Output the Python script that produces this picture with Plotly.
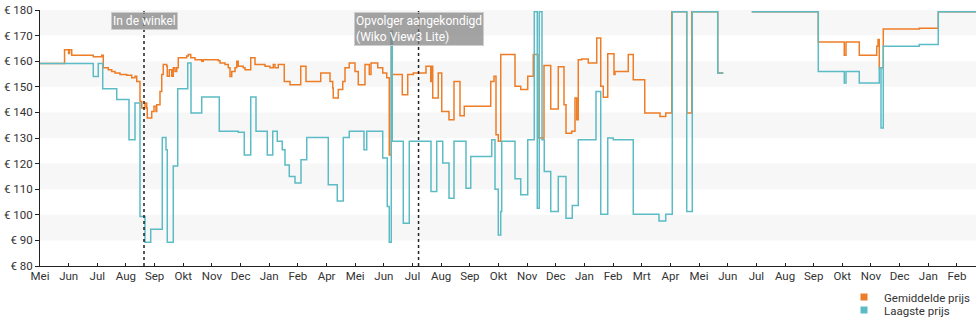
import pandas as pd
import plotly.graph_objects as go

START = pd.Timestamp("2018-05-01")

# x-axis tick labels (evenly spaced ticks as in the source chart)
tick_labels = ["Mei", "Jun", "Jul", "Aug", "Sep", "Okt", "Nov", "Dec", "Jan", "Feb", "Apr",
               "Mei", "Jun", "Jul", "Aug", "Sep", "Okt", "Nov", "Dec", "Jan", "Feb", "Mrt", "Apr",
               "Mei", "Jun", "Jul", "Aug", "Sep", "Okt", "Nov", "Dec", "Jan", "Feb"]
tick_step_days = 31.52

# y-axis ticks
y_ticks = [80, 90, 100, 110, 120, 130, 140, 150, 160, 170, 180]
y_labels = ["€ %d" % v for v in y_ticks]

# Gemiddelde prijs (average price): days since start, price in euro
avg_days = [0, 27.0, 31.4, 32.5, 34.9, 58.6, 67.9, 69.6, 75.1, 78.9, 82.5, 88.0, 95.4, 100.9,
            104.5, 106.4, 110.0, 111.9, 115.5, 117.4, 118.0, 122.9, 125.4, 127.6, 128.4, 132.0,
            133.9, 135.6, 139.4, 140.0, 142.2, 144.9, 146.6, 148.5, 150.4, 152.1, 161.4, 163.1,
            165.8, 170.5, 177.9, 179.6, 196.1, 198.0, 203.5, 207.1, 209.0, 210.9, 214.5, 216.4,
            218.1, 223.6, 225.5, 231.8, 236.5, 247.5, 253.0, 256.6, 258.5, 262.1, 268.7, 275.0,
            286.8, 292.6, 308.8, 319.0, 322.0, 322.6, 328.1, 333.0, 335.5, 340.2, 346.5, 350.1,
            357.5, 362.2, 364.1, 371.5, 377.0, 381.4, 384.2, 386.4, 387.5, 398.5, 404.5, 410.6,
            424.6, 429.8, 430.9, 432.0, 438.1, 441.9, 449.9, 455.4, 462.0, 466.7, 495.8, 499.4,
            501.6, 504.1, 506.8, 522.5, 528.8, 536.5, 542.6, 547.8, 554.4, 561.8, 570.1, 576.4,
            578.6, 584.9, 588.5, 590.4, 592.1, 595.9, 603.1, 612.4, 616.8, 619.6, 624.5, 631.4,
            632.5, 647.1, 652.6, 665.2, 682.0, 688.3, 694.9, 711.4, 716.9, 745.5, 751.6, 766.7,
            782.9, 856.1, 884.7, 886.6, 901.2, 920.4, 921.8, 923.2, 927.6, 967.2, 988.1, 1029.6]
avg_price = [159.1, 164.5, 163.0, 164.5, 162.3, 161.7, 162.3, 157.4, 156.7, 156.0, 155.4, 154.8,
             154.5, 153.5, 154.1, 152.1, 144.3, 141.7, 143.7, 141.7, 137.8, 140.4, 142.4, 140.4,
             143.0, 148.2, 154.8, 158.7, 158.0, 154.1, 156.7, 154.1, 157.4, 156.0, 157.4, 161.3,
             162.0, 162.6, 161.3, 160.6, 160.0, 160.6, 160.2, 159.3, 158.7, 157.4, 154.0, 156.0,
             157.4, 160.0, 158.0, 157.4, 156.7, 161.3, 158.7, 158.0, 157.4, 158.7, 157.4, 158.7,
             152.1, 150.8, 158.0, 152.1, 155.4, 152.1, 149.5, 145.6, 148.9, 152.1, 157.4, 159.3,
             156.0, 150.8, 158.7, 154.8, 159.3, 157.4, 155.4, 153.5, 123.4, 171.7, 154.8, 146.9,
             154.8, 155.4, 158.0, 152.1, 158.0, 145.6, 155.4, 140.4, 137.1, 152.1, 138.7, 142.4,
             152.1, 154.1, 131.3, 128.7, 162.6, 150.2, 148.9, 154.1, 162.6, 130.0, 158.3, 141.3,
             157.8, 143.0, 131.9, 132.6, 145.6, 137.1, 160.6, 160.9, 159.3, 169.1, 150.2, 145.9,
             162.9, 154.8, 156.0, 162.6, 152.8, 139.8, 138.4, 139.8, 179.3, 139.8, 179.3, 155.4,
             155.4, None, 179.3, 167.5, 162.3, 167.5, 162.3, 165.8, 168.5, 157.4, 172.6, 172.9,
             179.3, 179.3]

# Laagste prijs (lowest price)
low_days = [0, 58.6, 64.1, 69.0, 84.4, 97.9, 104.5, 110.0, 115.5, 121.8, 134.5, 138.6, 140.0,
            146.6, 151.5, 162.5, 166.1, 177.9, 197.2, 218.1, 224.7, 231.8, 237.6, 250.0, 256.0,
            261.0, 266.5, 269.5, 274.2, 280.5, 287.1, 293.4, 317.1, 327.0, 333.6, 340.2, 356.4,
            359.4, 377.0, 382.0, 384.2, 386.4, 387.5, 399.6, 406.2, 430.1, 436.4, 443.0, 449.9,
            455.4, 468.6, 473.8, 496.9, 500.5, 504.1, 506.8, 507.9, 522.5, 528.8, 536.5, 543.7,
            547.0, 549.2, 552.2, 554.7, 561.8, 570.1, 578.6, 585.5, 592.1, 611.6, 616.8, 624.5,
            630.6, 652.6, 680.9, 688.3, 695.5, 711.4, 717.5, 745.5, 751.6, 766.7, 782.9, 856.1,
            884.7, 886.6, 901.2, 923.2, 925.1, 927.6, 967.2, 988.1, 1029.6]
low_price = [159.1, 154.0, 159.1, 149.2, 145.0, 129.3, 143.7, 99.3, 89.3, 94.4, 130.2, 125.4,
             89.3, 119.1, 149.2, 159.3, 139.8, 146.0, 132.6, 132.2, 123.4, 146.0, 132.6, 123.4,
             132.6, 128.7, 125.4, 119.5, 115.0, 112.4, 121.5, 130.2, 111.7, 105.4, 130.2, 132.6,
             125.4, 132.6, 122.2, 103.2, 89.3, 171.7, 128.7, 96.7, 128.7, 109.1, 128.7, 120.2,
             106.5, 128.7, 110.4, 122.8, 129.3, 110.0, 92.1, 101.3, 128.7, 114.1, 107.8, 129.3,
             179.3, 102.6, 179.3, 129.3, 116.9, 101.3, 115.0, 98.7, 103.6, 129.3, 148.2, 100.2,
             130.0, 129.3, 100.2, 97.6, 100.2, 179.3, 101.3, 179.3, 155.4, 155.4, None, 179.3,
             156.0, 151.5, 156.0, 151.5, 157.4, 133.9, 165.8, 166.5, 179.3, 179.3]

# events
event_days = [114.4, 416.4]
event_texts = ["In de winkel", "Opvolger aangekondigd<br>(Wiko View3 Lite)"]

AVG_COLOR = "#ee7d27"
LOW_COLOR = "#5cbcc6"


def to_dates(days):
    return [START + pd.to_timedelta(d, unit="D") for d in days]


fig = go.Figure()
fig.add_trace(go.Scatter(x=to_dates(avg_days), y=avg_price, mode="lines", line_shape="hv",
                         line=dict(color=AVG_COLOR, width=1.5), showlegend=False,
                         connectgaps=False, name="Gemiddelde prijs"))
fig.add_trace(go.Scatter(x=to_dates(low_days), y=low_price, mode="lines", line_shape="hv",
                         line=dict(color=LOW_COLOR, width=1.5), showlegend=False,
                         connectgaps=False, name="Laagste prijs"))
# legend entries (square swatches), one legend box each for tight spacing
fig.add_trace(go.Scatter(x=[None], y=[None], mode="markers", name="Gemiddelde prijs",
                         marker=dict(symbol="square", size=7, color=AVG_COLOR), legend="legend"))
fig.add_trace(go.Scatter(x=[None], y=[None], mode="markers", name="Laagste prijs",
                         marker=dict(symbol="square", size=7, color=LOW_COLOR), legend="legend2"))

shapes = []
# alternating horizontal bands
for lo in [90, 110, 130, 150, 170]:
    shapes.append(dict(type="rect", xref="paper", x0=0, x1=1, yref="y", y0=lo, y1=lo + 10,
                       fillcolor="#f7f7f7", line=dict(width=0), layer="below"))
annotations = []
for d, t in zip(event_days, event_texts):
    dt = START + pd.to_timedelta(d, unit="D")
    shapes.append(dict(type="line", xref="x", x0=dt, x1=dt, yref="paper", y0=0, y1=1,
                       line=dict(color="#222222", width=1.5, dash="dot"), layer="above"))
    annotations.append(dict(x=dt, xref="x", y=0.994, yref="paper", yanchor="top", xanchor="center",
                            text=t, showarrow=False, align="left",
                            font=dict(family="Roboto", size=12, color="white"),
                            bgcolor="rgba(125,125,125,0.7)", bordercolor="rgba(205,205,205,0.9)",
                            borderwidth=1, borderpad=1))

tickvals = [START + pd.to_timedelta(i * tick_step_days, unit="D") for i in range(len(tick_labels))]

legend_style = dict(xref="container", yref="container", xanchor="left", yanchor="middle",
                    font=dict(family="Roboto", size=11.5, color="#333333"),
                    bgcolor="rgba(0,0,0,0)", itemwidth=30, borderwidth=0)

fig.update_layout(
    width=980, height=325,
    margin=dict(l=40, r=4, t=10, b=59, autoexpand=False),
    paper_bgcolor="white", plot_bgcolor="white",
    font=dict(family="Roboto", size=12, color="#333333"),
    shapes=shapes, annotations=annotations,
    showlegend=True,
    legend=dict(x=844 / 980, y=(325 - 297) / 325, **legend_style),
    legend2=dict(x=844 / 980, y=(325 - 310) / 325, **legend_style),
    xaxis=dict(type="date", range=[START, START + pd.to_timedelta(1029.6, unit="D")],
               tickvals=tickvals, ticktext=tick_labels, showgrid=False, zeroline=False,
               showline=True, linecolor="#222222", linewidth=1,
               ticks="inside", ticklen=3, tickcolor="#222222",
               tickfont=dict(family="Roboto", size=11.5, color="#333333")),
    yaxis=dict(range=[80, 180], tickvals=y_ticks, ticktext=y_labels, showgrid=False,
               zeroline=False, showline=True, linecolor="#222222", linewidth=1,
               ticks="outside", ticklen=4, tickcolor="#222222",
               tickfont=dict(family="Roboto", size=11.5, color="#333333")),
)
try:
    fig.update_xaxes(ticklabelstandoff=-1)
except Exception:
    pass

fig.write_html("out.html")
